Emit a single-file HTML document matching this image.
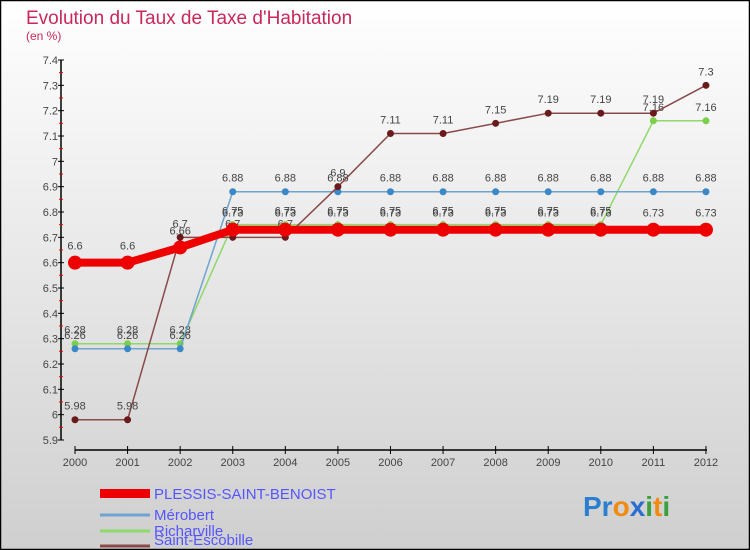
<!DOCTYPE html>
<html><head><meta charset="utf-8"><style>
body{margin:0;padding:0}
svg{display:block;font-family:"Liberation Sans",sans-serif}
</style></head><body>
<svg id="chart" width="750" height="550" viewBox="0 0 750 550" xmlns="http://www.w3.org/2000/svg">
<defs><linearGradient id="bg" x1="0" y1="0" x2="0" y2="1"><stop offset="0" stop-color="#ffffff"/><stop offset="1" stop-color="#cfcfcf"/></linearGradient></defs>
<rect x="0.5" y="0.5" width="749" height="549" fill="url(#bg)" stroke="#000" stroke-width="1.5"/>
<text x="26" y="24" font-size="19" fill="#c8285a">Evolution du Taux de Taxe d'Habitation</text>
<text x="26" y="40" font-size="12" fill="#c8285a">(en %)</text>
<g id="axes"></g><g id="series"></g>
<g>
<rect x="100" y="489" width="50" height="9" fill="#e00"/>
<text x="154" y="499" font-size="15" fill="#55f">PLESSIS-SAINT-BENOIST</text>
<line x1="100" y1="515" x2="150" y2="515" stroke="#6fa3d0" stroke-width="3"/>
<text x="154" y="520" font-size="15" fill="#55f">Mérobert</text>
<line x1="100" y1="531" x2="150" y2="531" stroke="#8fd86a" stroke-width="3"/>
<text x="154" y="536" font-size="15" fill="#55f">Richarville</text>
<line x1="100" y1="546" x2="150" y2="546" stroke="#8a4a4a" stroke-width="3"/>
<text x="154" y="545" font-size="15" fill="#55f">Saint-Escobille</text>
</g>
<text x="583" y="516" font-size="28" font-weight="bold"><tspan fill="#2a7fd0">Pr</tspan><tspan fill="#f08a10">o</tspan><tspan fill="#2a6fd0">x</tspan><tspan fill="#3aa040">i</tspan><tspan fill="#f08a10">t</tspan><tspan fill="#3aa040">i</tspan></text>
</svg>
<script>
const years=[2000,2001,2002,2003,2004,2005,2006,2007,2008,2009,2010,2011,2012];
const yTicks=[5.9,6,6.1,6.2,6.3,6.4,6.5,6.6,6.7,6.8,6.9,7,7.1,7.2,7.3,7.4];
const plessis=[6.6,6.6,6.66,6.73,6.73,6.73,6.73,6.73,6.73,6.73,6.73,6.73,6.73];
const merobert=[6.26,6.26,6.26,6.88,6.88,6.88,6.88,6.88,6.88,6.88,6.88,6.88,6.88];
const richarville=[6.28,6.28,6.28,6.75,6.75,6.75,6.75,6.75,6.75,6.75,6.75,7.16,7.16];
const escobille=[5.98,5.98,6.7,6.7,6.7,6.9,7.11,7.11,7.15,7.19,7.19,7.19,7.3];
const NS="http://www.w3.org/2000/svg";
const X=i=>75+i*52.58, Y=v=>440-(v-5.9)/1.5*380;
function mk(p,t,a){const e=document.createElementNS(NS,t);for(const k in a)e.setAttribute(k,a[k]);p.appendChild(e);return e;}
const ax=document.getElementById('axes');
let l=mk(ax,'line',{x1:61,y1:60,x2:61,y2:440,stroke:'#000','stroke-width':1.5});

yTicks.forEach(v=>{mk(ax,'line',{x1:58,y1:Y(v),x2:64,y2:Y(v),stroke:'#000'});
 mk(ax,'line',{x1:59,y1:Y(v)-12.7,x2:63,y2:Y(v)-12.7,stroke:v<7.4?'#e00':'none'});
 const t=mk(ax,'text',{x:58,y:Y(v)+4,'font-size':11,'text-anchor':'end',fill:'#444'});t.textContent=String(v);
 });
l=mk(ax,'line',{x1:75,y1:450,x2:707,y2:450,stroke:'#000','stroke-width':1.5});

years.forEach((y,i)=>{mk(ax,'line',{x1:X(i),y1:446,x2:X(i),y2:454,stroke:'#000'});
 const t=mk(ax,'text',{x:X(i),y:466,'font-size':11,'text-anchor':'middle',fill:'#444'});t.textContent=y;
 });
const sg=document.getElementById('series');
function draw(name,data,color,w,r,dot,lblOff){
 const g=mk(sg,'g',{});
 mk(g,'polyline',{points:data.map((v,i)=>X(i)+','+Y(v)).join(' '),fill:'none',stroke:color,'stroke-width':w,'stroke-linejoin':'round'});
 data.forEach((v,i)=>{const c=mk(g,'circle',{cx:X(i),cy:Y(v),r:r,fill:dot});
  const t=mk(g,'text',{x:X(i),y:Y(v)-lblOff,'font-size':11,'text-anchor':'middle',fill:'#444'});t.textContent=String(v);});
}
draw('series-richarville',richarville,'#8fd86a',1.5,3.5,'#7ccf4a',10);
draw('series-merobert',merobert,'#6fa3d0',1.5,3.5,'#3a88c8',10);
draw('series-escobille',escobille,'#8a4a4a',1.5,3.5,'#6a1a1a',10);
draw('series-plessis',plessis,'#e00',8,7,'#e00',13);
</script>
</body></html>
